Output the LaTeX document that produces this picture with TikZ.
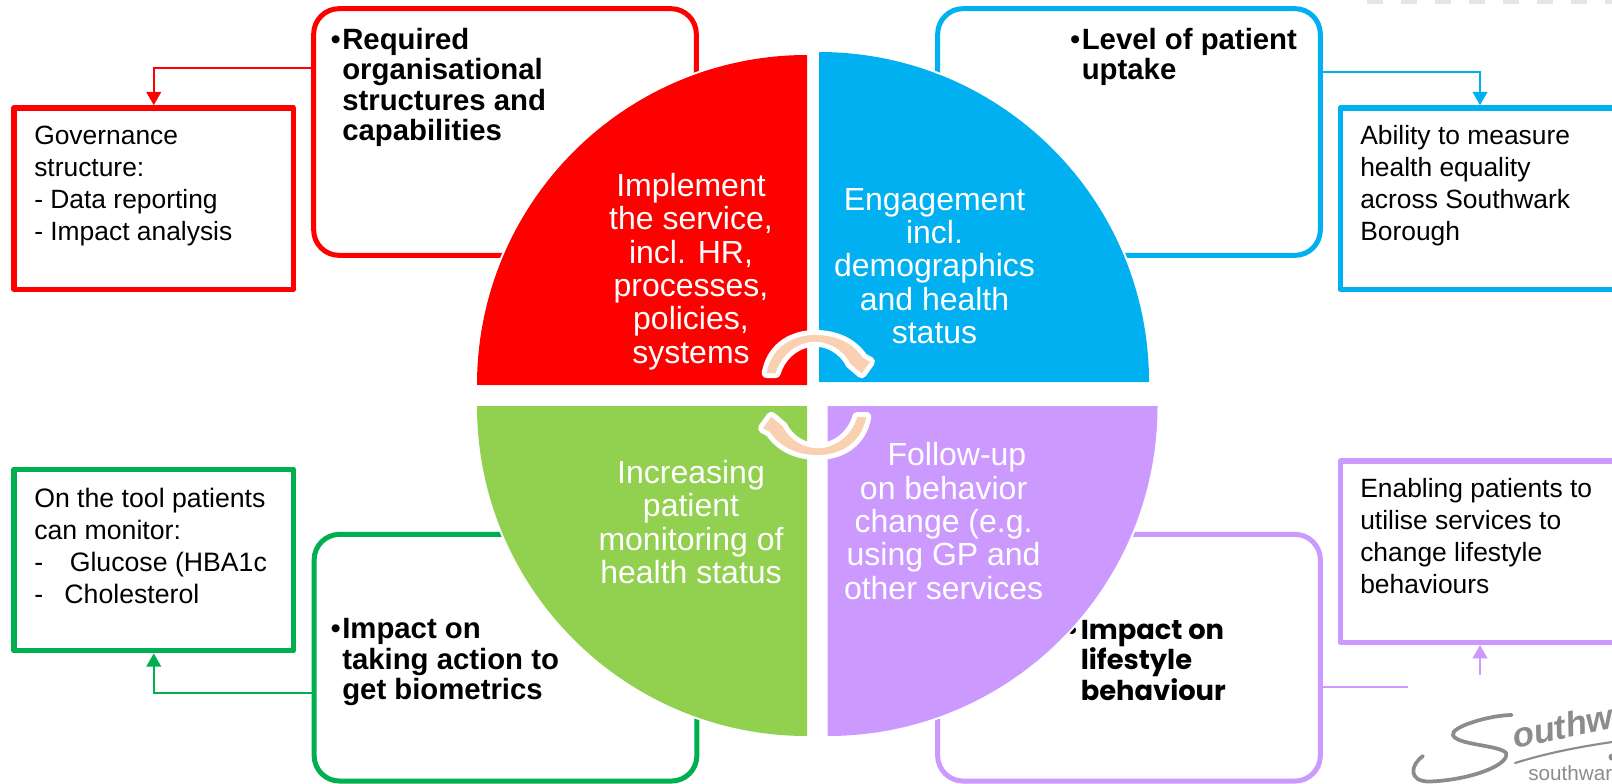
\documentclass[tikz,border=0pt]{standalone}
\usepackage{amsmath}
\usepackage{fontspec}
\setmainfont{Liberation Sans}
\newfontfamily\lifestylefont{Poppins}
\usetikzlibrary{arrows.meta}

\definecolor{redpart}{RGB}{255,0,0}
\definecolor{bluepart}{RGB}{0,176,240}
\definecolor{greenpart}{RGB}{146,208,80}
\definecolor{darkgreenpart}{RGB}{0,176,80}
\definecolor{purplepart}{RGB}{204,153,255}
\definecolor{cyclefill}{RGB}{250,208,178}
\definecolor{logogrey}{RGB}{140,140,140}

\newcommand{\hangbullet}{\makebox[0pt][r]{{\mdseries\textbullet}\hspace{1pt}}}

\tikzset{
  roundbox/.style={draw=#1,line width=3.75pt,rounded corners=19pt,fill=white,
    minimum width=287pt,minimum height=185pt,inner sep=0pt},
  squarebox/.style={draw=#1,line width=4pt,line join=round,fill=white,
    minimum width=209.6pt,minimum height=136pt,inner sep=0pt},
  quarter/.style={fill=#1,preaction={draw=white,line width=3pt}},
  link/.style={draw=#1,line width=1.5pt,-{Triangle[length=10pt,width=11pt]}},
  cyclearrow/.style={fill=cyclefill,preaction={draw=white,line width=7.5pt,line join=round}},
  parttext/.style={text=white,align=center,inner sep=0pt,font=\fontsize{24}{25}\selectfont},
  notetext/.style={anchor=north west,align=left,inner sep=0pt,font=\fontsize{19.8}{24}\selectfont},
  headtext/.style={anchor=north west,align=left,inner sep=0pt,font=\fontsize{22}{22.8}\selectfont\bfseries},
}

\begin{document}
\begin{tikzpicture}[x=0.75pt,y=0.75pt,yscale=-1,xscale=1]
\useasboundingbox (0,0) rectangle (1612,783);
\clip (0,0) rectangle (1612,783);

%Shape: Rounded Rectangles
\node [roundbox=redpart] (reqbox) at (505,132) {};
\node [roundbox=bluepart] (uptakebox) at (1129,132) {};
\node [roundbox=darkgreenpart] (actionbox) at (505.5,657.7) {};
\node [roundbox=purplepart] (lifebox) at (1129,657.7) {};

%Shape: Rectangles
\node [squarebox=redpart] (govbox) at (153.75,198.5) {};
\node [squarebox=bluepart] (equalitybox) at (1480,198.5) {};
\node [squarebox=darkgreenpart] (toolbox) at (153.75,560) {};
\node [squarebox=purplepart] (enablebox) at (1480,551.7) {};

%Free ends of the connectors
\coordinate (reqout) at (313.5,68);
\coordinate (uptakeout) at (1320,72);
\coordinate (actionout) at (314,693);
\coordinate (lifeout) at (1322,687);
\coordinate (lifeend) at (1408,687);
\coordinate (enablein) at (1480,675);

%Connectors
\draw [link=redpart] (reqout) -| (govbox.north);
\draw [link=bluepart] (uptakeout) -| (equalitybox.north);
\draw [link=darkgreenpart] (actionout) -| (toolbox.south);
\draw [draw=purplepart,line width=1.5pt] (lifeout) -- (lifeend);
\draw [link=purplepart] (enablein) -- (enablebox.south);

% Text Node
\node [headtext] (reqtext) at (342,28) {\hangbullet Required\\organisational\\structures and\\capabilities};
% Text Node
\node [headtext] (uptaketext) at (1081.5,28) {\hangbullet Level of patient\\uptake};
% Text Node
\node [headtext] (actiontext) at (342,618.5) {\hangbullet Impact on\\taking action to\\get biometrics};
% Text Node
\node [headtext,font=\fontsize{20.5}{22.8}\selectfont\lifestylefont\bfseries] (lifetext) at (1080.5,620) {\makebox[0pt][r]{\textbullet\hspace{1.5pt}}Impact on\\lifestyle\\behaviour};

%Shape: Quarter Discs
\path [quarter=redpart] (807,385) -- (477,385) arc[start angle=180,end angle=270,radius=330] -- cycle;
\path [quarter=bluepart] (819,382) -- (819,52) arc[start angle=270,end angle=360,radius=330] -- cycle;
\path [quarter=greenpart] (807,406) -- (807,736) arc[start angle=90,end angle=180,radius=330] -- cycle;
\path [quarter=purplepart] (827.5,406) -- (1157.5,406) arc[start angle=0,end angle=90,radius=330] -- cycle;

%Curved arrows
\path [cyclearrow] (766.7,373) .. controls (772,345) and (795,335) .. (815,335) .. controls (835,335) and (852,342) .. (863,358) -- (870,361.7) -- (861.7,373.3) -- (850,363.3) -- (849,361) .. controls (842,350) and (830,341.7) .. (815,341.7) .. controls (800,341.7) and (782,352) .. (775.7,373) -- cycle;
\path [cyclearrow] (866.3,417) .. controls (861,445) and (838,455) .. (818,455) .. controls (798,455) and (781,448) .. (770,432) -- (763,428.3) -- (771.3,416.7) -- (783,426.7) -- (784,429) .. controls (791,440) and (803,448.3) .. (818,448.3) .. controls (833,448.3) and (851,438) .. (857.3,417) -- cycle;

% Text Node
\node [parttext] (implementtext) at (691,271.5) {Implement\\the service,\\incl. HR,\\processes,\\policies,\\systems};
% Text Node
\node [parttext] (engagetext) at (934.5,266) {Engagement\\incl.\\demographics\\and health\\status};
% Text Node
\node [parttext] (monitortext) at (691,522) {Increasing\\patient\\monitoring of\\health status};
% Text Node
\node [parttext] (followtext) at (943.6,521) {\hspace{20pt}Follow-up\\on behavior\\change (e.g.\\using GP and\\other services};

% Text Node
\node [notetext] (govtext) at (34,126) {Governance\\structure:\\- Data reporting\\- Impact analysis};
% Text Node
\node [notetext] (equalitytext) at (1360,125) {Ability to measure\\health equality\\across Southwark\\Borough};
% Text Node
\node [notetext,font=\fontsize{20}{24}\selectfont] (tooltext) at (34,488) {On the tool patients\\can monitor:\\-\hspace{20pt}Glucose (HBA1c\\-\hspace{16pt}Cholesterol};
% Text Node
\node [notetext] (enabletext) at (1360,478) {Enabling patients to\\utilise services to\\change lifestyle\\behaviours};

%Logo
\draw [logogrey,line width=2.8pt,line cap=round] (1511.7,715) .. controls (1490,715) and (1450,727) .. (1453,735) .. controls (1456,745) and (1500,745) .. (1506,753) .. controls (1510,765) and (1470,780) .. (1430,781.5) .. controls (1408,782) and (1410,765) .. (1423,756);
\draw [logogrey,line width=1.6pt,line cap=round] (1515,763) .. controls (1550,752) and (1585,746) .. (1612,742);
\fill [logogrey] (1612,757) circle (3.5);
\node [text=logogrey,rotate=12,anchor=base west,inner sep=0pt,font=\fontsize{26}{26}\selectfont\bfseries\itshape] (logoname) at (1515,749) {outhw};
\node [text=logogrey,anchor=base west,inner sep=0pt,font=\fontsize{15.5}{15.5}\selectfont] (logoweb) at (1528,780) {southwar};

%Strip at the top edge
\draw [black!10,line width=3.4pt,dash pattern=on 12pt off 13.5pt] (1367,2) -- (1612,2);

\end{tikzpicture}
\end{document}
